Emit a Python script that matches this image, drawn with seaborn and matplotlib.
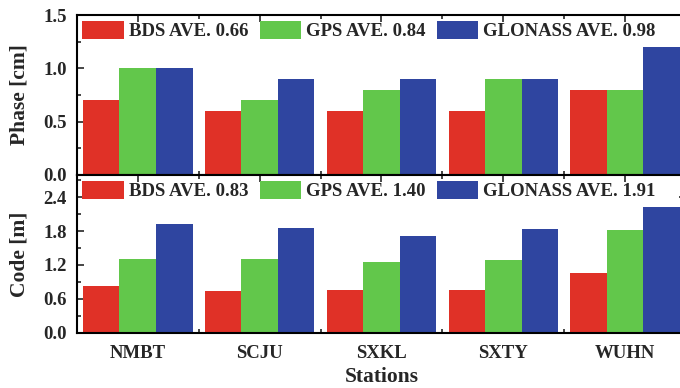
import matplotlib
matplotlib.use("Agg")
import matplotlib.pyplot as plt
import seaborn as sns
import pandas as pd
from matplotlib.ticker import MultipleLocator, FormatStrFormatter

stations = ["NMBT", "SCJU", "SXKL", "SXTY", "WUHN"]
systems = ["BDS", "GPS", "GLONASS"]
phase_bds = [0.7, 0.6, 0.6, 0.6, 0.8]
phase_gps = [1.0, 0.7, 0.8, 0.9, 0.8]
phase_glo = [1.0, 0.9, 0.9, 0.9, 1.2]
code_bds = [0.835, 0.74, 0.76, 0.76, 1.05]
code_gps = [1.30, 1.31, 1.26, 1.29, 1.82]
code_glo = [1.93, 1.85, 1.72, 1.84, 2.22]
phase_labels = ["BDS AVE. 0.66", "GPS AVE. 0.84", "GLONASS AVE. 0.98"]
code_labels = ["BDS AVE. 0.83", "GPS AVE. 1.40", "GLONASS AVE. 1.91"]
colors = ["#E03127", "#62C74B", "#2F45A0"]

sns.set_style("ticks")
plt.rcParams["font.family"] = ["Liberation Serif", "DejaVu Serif"]
plt.rcParams["font.weight"] = "bold"
plt.rcParams["axes.labelweight"] = "bold"


def long_df(vals):
    rows = []
    for s, v in zip(systems, vals):
        for st, x in zip(stations, v):
            rows.append({"Station": st, "System": s, "Value": x})
    return pd.DataFrame(rows)


fig = plt.figure(figsize=(6.8, 3.88), dpi=100)
ax1 = fig.add_axes([0.113, 0.549, 0.896, 0.412])
ax2 = fig.add_axes([0.113, 0.142, 0.896, 0.407])

panels = [
    (ax1, long_df([phase_bds, phase_gps, phase_glo]), phase_labels, "Phase [cm]", (0, 1.5), 0.5, 0.25),
    (ax2, long_df([code_bds, code_gps, code_glo]), code_labels, "Code [m]", (0, 2.79), 0.6, 0.3),
]

for ax, df, labels, ylabel, ylim, major, minor in panels:
    sns.barplot(data=df, x="Station", y="Value", hue="System", hue_order=systems,
                order=stations, palette=colors, width=0.9, saturation=1,
                ax=ax, errorbar=None, linewidth=0)
    lg = ax.legend_
    handles = lg.legend_handles if hasattr(lg, "legend_handles") else lg.legendHandles
    lg.remove()
    ax.legend(handles, labels, ncol=3, loc="upper left", bbox_to_anchor=(0.0, 1.0),
              frameon=False, handlelength=2.2, handleheight=1.15,
              handletextpad=0.28, columnspacing=0.6, borderaxespad=0.1,
              borderpad=0.2, prop={"weight": "bold", "size": 13.5})
    ax.set_xlim(-0.5, 4.5)
    ax.set_ylim(*ylim)
    ax.yaxis.set_major_locator(MultipleLocator(major))
    ax.yaxis.set_minor_locator(MultipleLocator(minor))
    ax.yaxis.set_major_formatter(FormatStrFormatter("%.1f"))
    ax.set_xticks(range(len(stations)))
    ax.set_xticks([i + 0.5 for i in range(-1, len(stations))], minor=True)
    ax.set_ylabel(ylabel, fontsize=15.5, fontweight="bold", labelpad=10)
    ax.tick_params(which="both", direction="in", top=True, right=True, width=1.2,
                   labelsize=13.5)
    ax.tick_params(which="major", length=5)
    ax.tick_params(which="minor", length=3)
    ax.tick_params(axis="x", pad=9)
    ax.tick_params(axis="y", pad=7)
    for sp in ax.spines.values():
        sp.set_linewidth(1.5)
        sp.set_color("black")
    for t in ax.get_yticklabels() + ax.get_xticklabels():
        t.set_fontweight("bold")

ax1.set_xlabel("")
ax1.tick_params(axis="x", labelbottom=False)
ax2.set_xlabel("Stations", fontsize=15.5, fontweight="bold", labelpad=3)
fig.align_ylabels([ax1, ax2])

fig.savefig("out.png", dpi=100)
